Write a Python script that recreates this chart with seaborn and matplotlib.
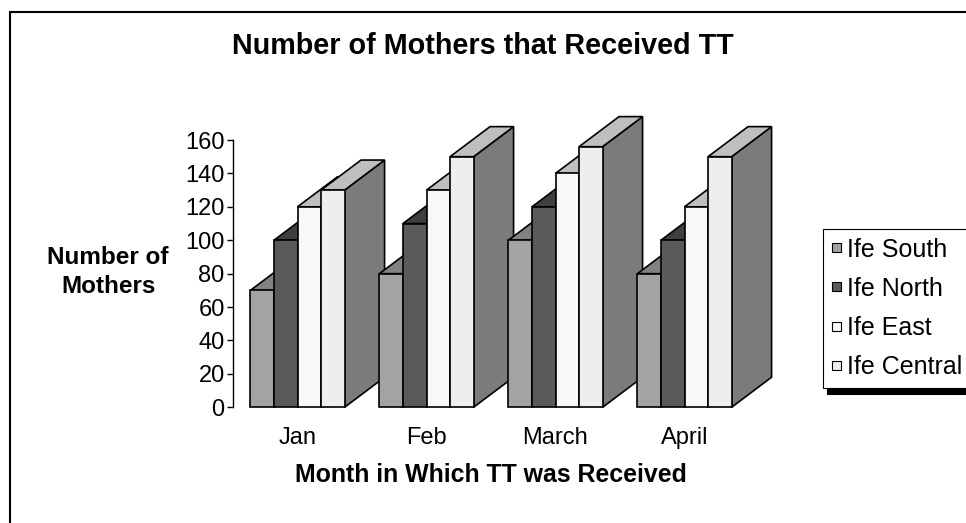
#!/usr/bin/env python3
from __future__ import annotations

import matplotlib

matplotlib.use("Agg")
import matplotlib.pyplot as plt
import numpy as np
import pandas as pd
import seaborn as sns
from matplotlib.patches import Patch, Polygon, Rectangle

months = ["Jan", "Feb", "March", "April"]
districts = ["Ife South", "Ife North", "Ife East", "Ife Central"]
ife_south = [70, 80, 100, 80]
ife_north = [100, 110, 120, 100]
ife_east = [120, 130, 140, 120]
ife_central = [130, 150, 156, 150]

front_colors = ["#a3a3a3", "#5a5a5a", "#f8f8f8", "#eeeeee"]
top_colors = ["#828282", "#3f3f3f", "#bfbfbf", "#bfbfbf"]
side_colors = ["#6a6a6a", "#333333", "#7b7b7b", "#7b7b7b"]

# fake 3-d depth, in data units
DEPTH_X = 0.31
DEPTH_Y = 18.0


def build_frame() -> pd.DataFrame:
    rows = []
    for district, values in zip(districts, [ife_south, ife_north, ife_east, ife_central]):
        for month, value in zip(months, values):
            rows.append({"month": month, "district": district, "mothers": value})
    return pd.DataFrame(rows)


def add_depth(ax) -> None:
    bars = sorted([p for p in ax.patches if isinstance(p, Rectangle)], key=lambda b: b.get_x())
    for i, bar in enumerate(bars):
        k = i % len(districts)
        x0, w, h = bar.get_x(), bar.get_width(), bar.get_height()
        x1 = x0 + w
        top = Polygon(
            [(x0, h), (x0 + DEPTH_X, h + DEPTH_Y), (x1 + DEPTH_X, h + DEPTH_Y), (x1, h)],
            facecolor=top_colors[k], edgecolor="black", linewidth=1.2,
            zorder=10 + 2 * i - 1, clip_on=False,
        )
        side = Polygon(
            [(x1, 0), (x1 + DEPTH_X, DEPTH_Y), (x1 + DEPTH_X, h + DEPTH_Y), (x1, h)],
            facecolor=side_colors[k], edgecolor="black", linewidth=1.2,
            zorder=10 + 2 * i - 1, clip_on=False,
        )
        ax.add_patch(side)
        ax.add_patch(top)
        bar.set_zorder(10 + 2 * i)
        bar.set_clip_on(False)


def main() -> None:
    df = build_frame()

    sns.set_theme(style="white")
    plt.rcParams["font.family"] = ["Liberation Sans", "DejaVu Sans"]
    plt.rcParams.update({
        "text.color": "black",
        "axes.labelcolor": "black",
        "xtick.color": "black",
        "ytick.color": "black",
    })

    fig = plt.figure(figsize=(9.66, 5.23), dpi=100)
    ax = fig.add_axes([233 / 966, (523 - 407.3) / 523, 516 / 966, 267.3 / 523])
    sns.barplot(
        data=df, x="month", y="mothers", hue="district",
        order=months, hue_order=districts, palette=front_colors,
        saturation=1, width=0.73, edgecolor="black", linewidth=1.2,
        legend=False, ax=ax,
    )
    add_depth(ax)

    ax.set_xlim(-0.5, 3.5)
    ax.set_ylim(0, 160)
    ax.set_yticks(np.arange(0, 161, 20))
    sns.despine(ax=ax, bottom=True)
    ax.spines["left"].set_color("black")
    ax.spines["left"].set_linewidth(1.0)
    ax.tick_params(axis="y", left=True, length=4, width=1, color="black", labelsize=17, pad=2)
    ax.tick_params(axis="x", length=0, labelsize=17, pad=14)

    ax.set_ylabel("Number of\nMothers", rotation=0, fontsize=17.5, fontweight="bold",
                  ha="center", va="center", linespacing=1.3)
    ax.yaxis.set_label_coords(-0.242, 0.506)
    ax.set_xlabel("Month in Which TT was Received", fontsize=17.9, fontweight="bold", va="center")
    ax.xaxis.set_label_coords(0.5, -0.253)

    fig.text(0.5, 1 - 46 / 523, "Number of Mothers that Received TT",
             ha="center", va="center", fontsize=20.7, fontweight="bold")

    # outer chart border (runs off the right and bottom edge)
    fig.patches.append(Rectangle((10 / 966, -0.1), 1.2, 1 - 12 / 523 + 0.1, transform=fig.transFigure,
                                 fill=False, edgecolor="black", linewidth=1.5))

    handles = [Patch(facecolor=c, edgecolor="black", linewidth=0.8, label=d)
               for c, d in zip(front_colors, districts)]
    leg = fig.legend(
        handles=handles, loc="upper left", bbox_to_anchor=(823 / 966, 1 - 229 / 523),
        borderaxespad=0, frameon=True, fancybox=False, edgecolor="black", framealpha=1,
        fontsize=18, handlelength=0.38, handleheight=0.18, handletextpad=0.22,
        labelspacing=0.61, borderpad=0.35,
        shadow={"ox": 3, "oy": -4, "color": "black", "alpha": 1},
    )
    leg.get_frame().set_linewidth(0.8)

    fig.savefig("out.png", dpi=100)
    plt.close(fig)


if __name__ == "__main__":
    main()
